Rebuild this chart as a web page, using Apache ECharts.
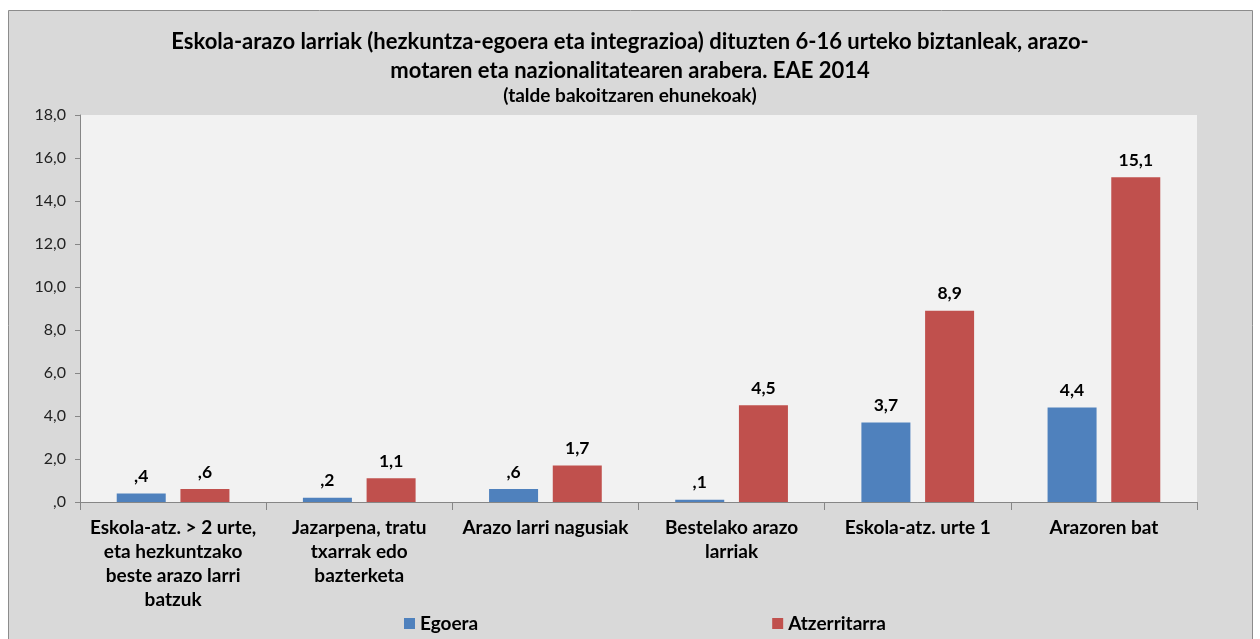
<!DOCTYPE html>
<html>
<head>
<meta charset="utf-8">
<script src="https://cdn.jsdelivr.net/npm/echarts@6/dist/echarts.min.js"></script>
<style>
  html, body { margin: 0; padding: 0; background: #fff; }
  #chart { width: 1260px; height: 639px; }
</style>
</head>
<body>
<div id="chart"></div>
<script>
let categories = [
    'Eskola-atz. > 2 urte,\neta hezkuntzako\nbeste arazo larri\nbatzuk',
    'Jazarpena, tratu\ntxarrak edo\nbazterketa',
    'Arazo larri nagusiak',
    'Bestelako arazo\nlarriak',
    'Eskola-atz. urte 1',
    'Arazoren bat'
];
let egoera = [0.4, 0.2, 0.6, 0.1, 3.7, 4.4];
let atzerritarra = [0.6, 1.1, 1.7, 4.5, 8.9, 15.1];
let yTicks = [0, 2, 4, 6, 8, 10, 12, 14, 16, 18];

// 0.4 -> ",4" ; 15.1 -> "15,1"
function fmt(v){
    let s = v.toFixed(1).replace('.', ',');
    if (s.indexOf('0,') === 0) s = s.substring(1);
    return s;
}

let myChart = echarts.init(document.getElementById('chart'));
let font = 'Lato, "Open Sans", sans-serif';

let option = {
    textStyle: { fontFamily: font },
    graphic: [{
        type: 'rect',
        z: -10,
        shape: { x: 8.5, y: 10.5, width: 1244, height: 640 },
        style: { fill: '#d9d9d9', stroke: '#8c8c8c', lineWidth: 1 }
    }],
    title: {
        text: 'Eskola-arazo larriak (hezkuntza-egoera eta integrazioa) dituzten 6-16 urteko biztanleak, arazo-\nmotaren eta nazionalitatearen arabera. EAE 2014',
        subtext: '(talde bakoitzaren ehunekoak)',
        left: 'center',
        top: 22,
        itemGap: 0,
        textStyle: { fontFamily: font, fontSize: 22, fontWeight: 'bold', color: '#000', lineHeight: 29 },
        subtextStyle: { fontFamily: font, fontSize: 19, fontWeight: 'bold', color: '#000', lineHeight: 22 }
    },
    legend: {
        left: 399,
        top: 609,
        itemWidth: 11,
        itemHeight: 11,
        itemGap: 294,
        icon: 'rect',
        textStyle: { fontFamily: font, fontSize: 19, fontWeight: 'bold', color: '#000' },
        data: ['Egoera', 'Atzerritarra']
    },
    grid: {
        left: 80, top: 115, right: 63, bottom: 137,
        show: true, backgroundColor: '#f2f2f2', borderWidth: 0
    },
    xAxis: {
        type: 'category',
        data: categories,
        axisLine: { lineStyle: { color: '#868686' } },
        axisTick: { show: true, length: 8, alignWithLabel: false, lineStyle: { color: '#868686' } },
        axisLabel: {
            interval: 0, margin: 14,
            fontFamily: font, fontSize: 19, fontWeight: 'bold', color: '#000', lineHeight: 24
        }
    },
    yAxis: {
        type: 'value',
        min: yTicks[0],
        max: yTicks[yTicks.length - 1],
        interval: 2,
        splitLine: { show: false },
        axisLine: { show: true, lineStyle: { color: '#868686' } },
        axisTick: { show: true, length: 5, lineStyle: { color: '#868686' } },
        axisLabel: {
            margin: 14, fontFamily: font, fontSize: 16, color: '#222',
            formatter: function(v){ return fmt(v); }
        }
    },
    series: [
        {
            name: 'Egoera', type: 'bar', data: egoera,
            barWidth: 49, barGap: '30%',
            itemStyle: { color: '#4f81bd' },
            label: {
                show: true, position: 'top', distance: 8,
                fontFamily: font, fontSize: 17.5, fontWeight: 'bold', color: '#000',
                formatter: function(p){ return fmt(p.value); }
            }
        },
        {
            name: 'Atzerritarra', type: 'bar', data: atzerritarra,
            barWidth: 49, barGap: '30%',
            itemStyle: { color: '#c0504d' },
            label: {
                show: true, position: 'top', distance: 8,
                fontFamily: font, fontSize: 17.5, fontWeight: 'bold', color: '#000',
                formatter: function(p){ return fmt(p.value); }
            }
        }
    ]
};

option && myChart.setOption(option);
</script>
</body>
</html>
